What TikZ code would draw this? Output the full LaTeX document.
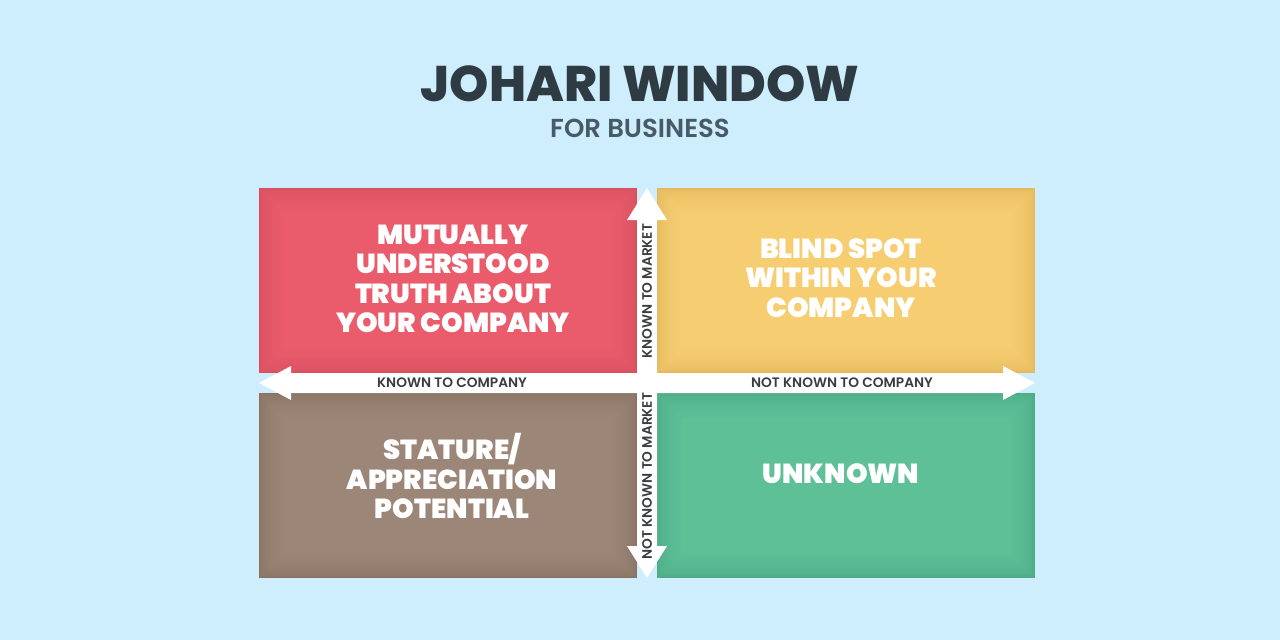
\documentclass[tikz,border=0pt]{standalone}
\usepackage{fontspec}
\usetikzlibrary{calc}
\newfontfamily\popx{Poppins}[UprightFont={* ExtraBold}]
\newfontfamily\popk{Poppins}[UprightFont={* Black}]
\newfontfamily\pops{Poppins}[UprightFont={* SemiBold}]
\definecolor{bg}{HTML}{CFEEFD}
\definecolor{titlec}{HTML}{2E3B42}
\definecolor{subc}{HTML}{485A66}
\definecolor{axisc}{HTML}{3A3D40}
\definecolor{redb}{HTML}{EA5C6C}
\definecolor{rede}{HTML}{D6505F}
\definecolor{yelb}{HTML}{F6CE71}
\definecolor{yele}{HTML}{E3B85C}
\definecolor{brnb}{HTML}{9C8678}
\definecolor{brne}{HTML}{877264}
\definecolor{grnb}{HTML}{5DC097}
\definecolor{grne}{HTML}{4CAA85}
\newcommand{\vquad}[6]{%
  \fill[#5] (#1,#2) rectangle (#3,#4);
  \foreach \i in {1,...,24}{%
    \pgfmathsetmacro\pp{100*sqrt(\i/24)}%
    \fill[#6!\pp!#5] ({#1+\i*1.1},{#2+\i*1.1}) rectangle ({#3-\i*1.1},{#4-\i*1.1});
  }%
}
\begin{document}
\begin{tikzpicture}[x=1pt,y=-1pt,
  quadtext/.style={text=white,align=center,font=\popk\fontsize{27.5}{29.5}\selectfont},
  axistext/.style={text=axisc,font=\pops\fontsize{13.7}{16}\selectfont},
  arrowfill/.style={fill=white}]
\useasboundingbox (0,0) rectangle (1280,640);
\fill[bg] (0,0) rectangle (1280,640);
% title
\node[text=titlec,font=\popx\fontsize{50}{56}\selectfont] (title) at (640,84) {JOHARI WINDOW};
\node[text=subc,font=\pops\fontsize{26}{28}\selectfont] (subtitle) at (640,128) {FOR BUSINESS};
% quadrants
\vquad{259}{188}{637}{373}{rede}{redb}
\vquad{657}{188}{1035}{373}{yele}{yelb}
\vquad{259}{393}{637}{578}{brne}{brnb}
\vquad{657}{393}{1035}{578}{grne}{grnb}
% arrows
\coordinate (tipL) at (259,383);
\coordinate (tipR) at (1035,383);
\coordinate (tipT) at (647,188);
\coordinate (tipB) at (647,578);
\fill[arrowfill] (tipL) -- ++(32,-17) -- ++(0,7) -- ($(tipR)+(-32,-10)$) -- ++(0,-7) -- (tipR)
  -- ++(-32,17) -- ++(0,-7) -- ($(tipL)+(32,10)$) -- ++(0,7) -- cycle;
\fill[arrowfill] (tipT) -- ++(20,32) -- ++(-10,0) -- ($(tipB)+(10,-32)$) -- ++(10,0) -- (tipB)
  -- ++(-20,-32) -- ++(10,0) -- ($(tipT)+(-10,32)$) -- ++(-10,0) -- cycle;
% quadrant texts
\node[quadtext] (q1) at (453,279) {MUTUALLY\\UNDERSTOOD\\TRUTH ABOUT\\YOUR COMPANY};
\node[quadtext] (q2) at (841,278) {BLIND SPOT\\WITHIN YOUR\\COMPANY};
\node[quadtext] (q3) at (452,476) {STATURE/\\APPRECIATION\\POTENTIAL};
\node[quadtext] (q4) at (841,474) {UNKNOWN};
% axis labels
\node[axistext] (kc) at (452,383) {KNOWN TO COMPANY};
\node[axistext] (nkc) at (842,383) {NOT KNOWN TO COMPANY};
\node[axistext,rotate=90] (km) at (647,291) {KNOWN TO MARKET};
\node[axistext,rotate=90] (nkm) at (647,476) {NOT KNOWN TO MARKET};
\end{tikzpicture}
\end{document}
